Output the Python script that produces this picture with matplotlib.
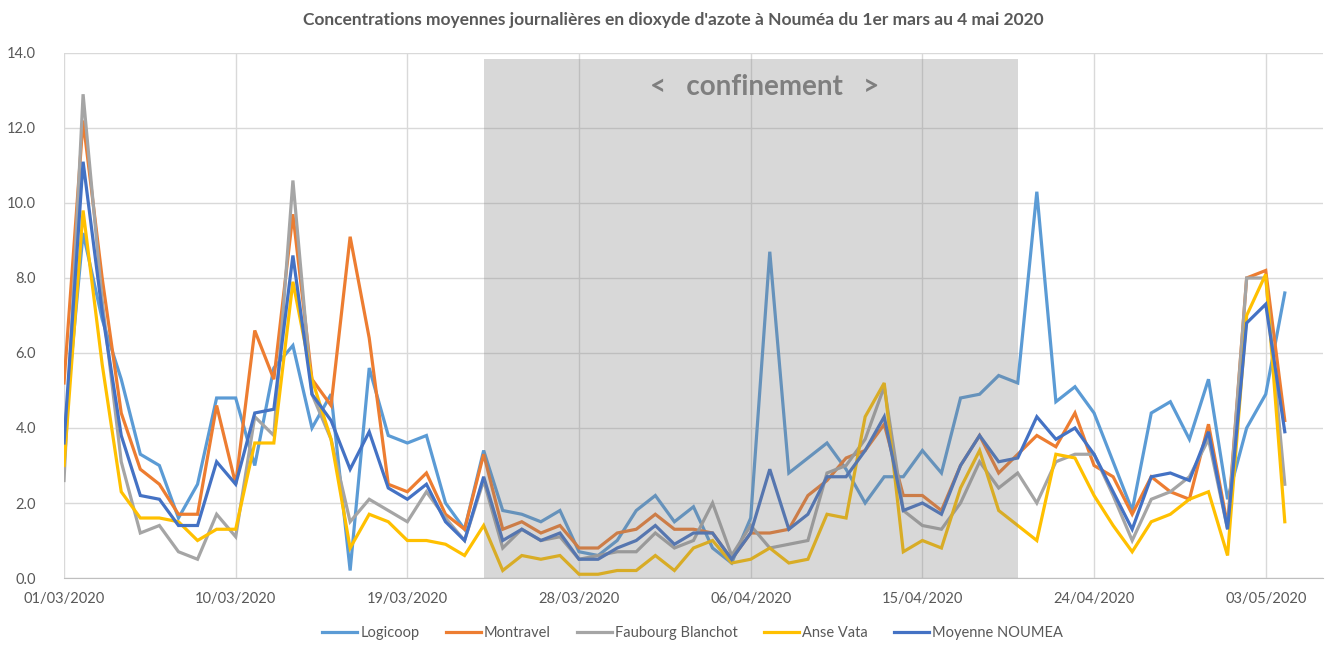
import matplotlib
matplotlib.use("Agg")
import matplotlib.pyplot as plt
import matplotlib.dates as mdates
import pandas as pd

# daily NO2 means, 01/03/2020 -> 04/05/2020
dates = pd.date_range("2020-03-01", "2020-05-04", freq="D")

logicoop = [
    3.7, 9.2, 6.9, 5.3, 3.3, 3.0, 1.6, 2.5, 4.8, 4.8,
    3.0, 5.6, 6.2, 4.0, 4.9, 0.2, 5.6, 3.8, 3.6, 3.8,
    2.0, 1.3, 3.4, 1.8, 1.7, 1.5, 1.8, 0.7, 0.6, 1.0,
    1.8, 2.2, 1.5, 1.9, 0.8, 0.4, 1.6, 8.7, 2.8, 3.2,
    3.6, 2.9, 2.0, 2.7, 2.7, 3.4, 2.8, 4.8, 4.9, 5.4,
    5.2, 10.3, 4.7, 5.1, 4.4, 3.1, 1.8, 4.4, 4.7, 3.7,
    5.3, 2.1, 4.0, 4.9, 7.6,
]
montravel = [
    5.2, 12.2, 8.0, 4.4, 2.9, 2.5, 1.7, 1.7, 4.6, 2.5,
    6.6, 5.3, 9.7, 5.3, 4.6, 9.1, 6.4, 2.5, 2.3, 2.8,
    1.7, 1.3, 3.3, 1.3, 1.5, 1.2, 1.4, 0.8, 0.8, 1.2,
    1.3, 1.7, 1.3, 1.3, 1.2, 0.5, 1.2, 1.2, 1.3, 2.2,
    2.6, 3.2, 3.4, 4.1, 2.2, 2.2, 1.8, 3.0, 3.8, 2.8,
    3.3, 3.8, 3.5, 4.4, 3.0, 2.7, 1.7, 2.7, 2.3, 2.1,
    4.1, 1.4, 8.0, 8.2, 4.2,
]
faubourg = [
    2.6, 12.9, 7.4, 3.1, 1.2, 1.4, 0.7, 0.5, 1.7, 1.1,
    4.3, 3.8, 10.6, 4.9, 3.7, 1.5, 2.1, 1.8, 1.5, 2.3,
    1.6, 1.0, 2.6, 0.8, 1.3, 1.0, 1.1, 0.5, 0.6, 0.7,
    0.7, 1.2, 0.8, 1.0, 2.0, 0.6, 1.4, 0.8, 0.9, 1.0,
    2.8, 3.0, 3.7, 5.1, 1.8, 1.4, 1.3, 2.0, 3.1, 2.4,
    2.8, 2.0, 3.1, 3.3, 3.3, 2.2, 1.0, 2.1, 2.3, 2.7,
    3.7, 1.3, 8.0, 8.0, 2.5,
]
anse_vata = [
    3.0, 9.8, 5.7, 2.3, 1.6, 1.6, 1.5, 1.0, 1.3, 1.3,
    3.6, 3.6, 7.9, 5.3, 3.7, 0.8, 1.7, 1.5, 1.0, 1.0,
    0.9, 0.6, 1.4, 0.2, 0.6, 0.5, 0.6, 0.1, 0.1, 0.2,
    0.2, 0.6, 0.2, 0.8, 1.0, 0.4, 0.5, 0.8, 0.4, 0.5,
    1.7, 1.6, 4.3, 5.2, 0.7, 1.0, 0.8, 2.4, 3.4, 1.8,
    1.4, 1.0, 3.3, 3.2, 2.2, 1.4, 0.7, 1.5, 1.7, 2.1,
    2.3, 0.6, 7.0, 8.1, 1.5,
]
moyenne = [
    3.6, 11.1, 7.1, 3.8, 2.2, 2.1, 1.4, 1.4, 3.1, 2.5,
    4.4, 4.5, 8.6, 4.9, 4.2, 2.9, 3.9, 2.4, 2.1, 2.5,
    1.5, 1.0, 2.7, 1.0, 1.3, 1.0, 1.2, 0.5, 0.5, 0.8,
    1.0, 1.4, 0.9, 1.2, 1.2, 0.5, 1.2, 2.9, 1.3, 1.7,
    2.7, 2.7, 3.4, 4.3, 1.8, 2.0, 1.7, 3.0, 3.8, 3.1,
    3.2, 4.3, 3.7, 4.0, 3.3, 2.3, 1.3, 2.7, 2.8, 2.6,
    3.9, 1.3, 6.8, 7.3, 3.9,
]

series = [
    ("Logicoop", logicoop, "#5B9BD5"),
    ("Montravel", montravel, "#ED7D31"),
    ("Faubourg Blanchot", faubourg, "#A5A5A5"),
    ("Anse Vata", anse_vata, "#FFC000"),
    ("Moyenne NOUMEA", moyenne, "#4472C4"),
]

lockdown_start = pd.Timestamp("2020-03-23")
lockdown_end = pd.Timestamp("2020-04-20")

plt.rcParams["font.family"] = ["Lato", "DejaVu Sans"]
text_col = "#595959"
grid_col = "#D9D9D9"

fig = plt.figure(figsize=(13.42, 6.54), dpi=100)
ax = fig.add_axes([0.0477, 0.1162, 0.9381, 0.8028])

for name, vals, col in series:
    ax.plot(dates, vals, color=col, lw=2.3, label=name, zorder=3,
            solid_joinstyle="miter")

# grey overlay for the lockdown period (drawn on top, like the Excel shape)
ax.axvspan(lockdown_start, lockdown_end, ymin=0, ymax=13.85 / 14,
           color="#808080", alpha=0.3, lw=0, zorder=4)
ax.text(pd.Timestamp("2020-04-06 18:00"), 13.1, "<   confinement   >",
        ha="center", va="center", fontsize=20, fontweight="bold",
        color="#7F7F7F", zorder=5)

ax.set_xlim(dates[0], dates[0] + pd.Timedelta(days=66))
ax.set_ylim(0, 14)
ax.set_xticks(dates[::9])
ax.xaxis.set_major_formatter(mdates.DateFormatter("%d/%m/%Y"))
ax.set_yticks(range(0, 15, 2))
ax.set_yticklabels([f"{v:.1f}" for v in range(0, 15, 2)])
ax.grid(True, color=grid_col, lw=1, zorder=0)
ax.tick_params(length=0, labelsize=10.5, colors=text_col)
ax.tick_params(axis="y", pad=20)
ax.tick_params(axis="x", pad=10)
for s in ["top", "right", "left"]:
    ax.spines[s].set_visible(False)
ax.spines["bottom"].set_color("#BFBFBF")

fig.text(0.502, 0.97, "Concentrations moyennes journalières en dioxyde d'azote à Nouméa du 1er mars au 4 mai 2020",
         ha="center", va="center", fontsize=12.5, fontweight="bold", color=text_col)

leg = fig.legend(loc="center", bbox_to_anchor=(0.516, 0.032), ncol=5, frameon=False,
                 fontsize=10.5, handlelength=2.4, handletextpad=0.2, columnspacing=1.8)
for t in leg.get_texts():
    t.set_color(text_col)

fig.savefig("out.png", dpi=100)
